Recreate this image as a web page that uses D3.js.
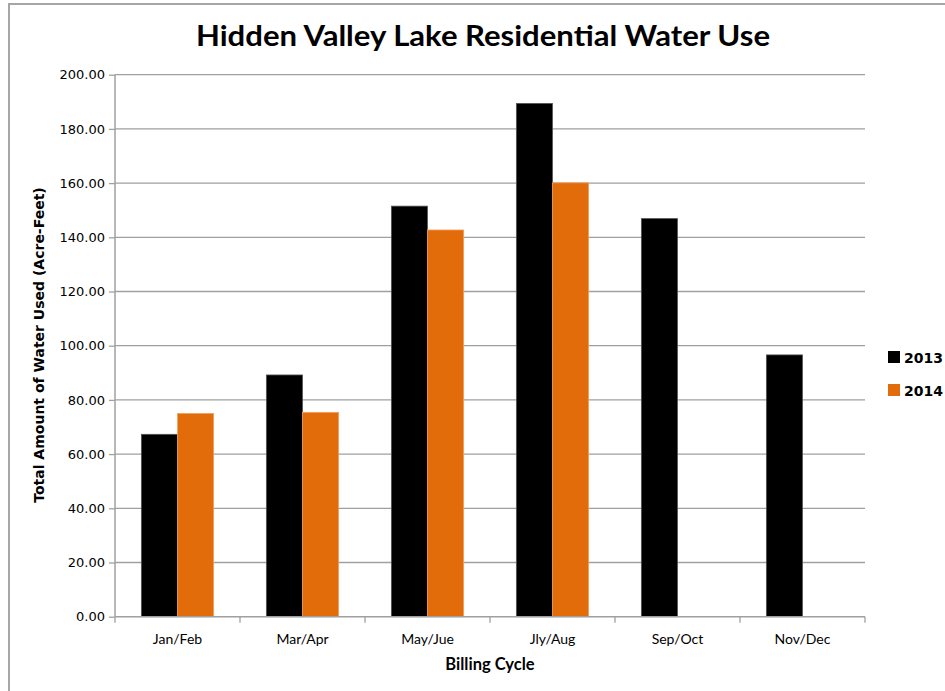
<!DOCTYPE html>
<html>
<head>
<meta charset="utf-8">
<script src="https://cdn.jsdelivr.net/npm/d3@7"></script>
<style>
  body { margin: 0; background: #fff; }
</style>
</head>
<body>
<div id="chart"></div>
<script>
var cycles = ["Jan/Feb", "Mar/Apr", "May/Jue", "Jly/Aug", "Sep/Oct", "Nov/Dec"];
var years = ["2013", "2014"];
var use2013 = [67.3, 89.2, 151.5, 189.4, 146.9, 96.6];
var use2014 = [75.0, 75.4, 142.7, 160.1, null, null];
var yTicks = [0, 20, 40, 60, 80, 100, 120, 140, 160, 180, 200];
var colors = {"2013": "#000000", "2014": "#e36c0a"};

var width = 945, height = 691;
var margin = {top: 74.7, left: 115, right: 80, bottom: 74.3};

var svg = d3.select("#chart").append("svg")
  .attr("width", width)
  .attr("height", height);

// chart frame (only left and top edges are visible)
svg.append("path")
  .attr("d", "M9,691 L9,4 L945,4")
  .attr("fill", "none")
  .attr("stroke", "#a6a6a6")
  .attr("stroke-width", 2);

var x = d3.scaleBand()
  .domain(cycles)
  .range([margin.left, width - margin.right]);

var x1 = d3.scaleBand()
  .domain(years)
  .range([0, x.bandwidth()])
  .paddingOuter(0.73);

var y = d3.scaleLinear()
  .domain([0, 200])
  .range([height - margin.bottom, margin.top]);

// gridlines
svg.append("g")
  .selectAll("line")
  .data(yTicks.slice(1))
  .enter().append("line")
  .attr("x1", margin.left)
  .attr("x2", width - margin.right)
  .attr("y1", function(d) { return y(d); })
  .attr("y2", function(d) { return y(d); })
  .attr("stroke", "#a0a0a0")
  .attr("stroke-width", 1.3);

// bars
var rows = cycles.map(function(c, i) {
  return {cycle: c, values: [
    {year: "2013", value: use2013[i]},
    {year: "2014", value: use2014[i]}
  ]};
});

var group = svg.selectAll(".grp")
  .data(rows)
  .enter().append("g")
  .attr("class", "grp")
  .attr("transform", function(d) { return "translate(" + x(d.cycle) + ",0)"; });

group.selectAll("rect")
  .data(function(d) { return d.values.filter(function(v) { return v.value != null; }); })
  .enter().append("rect")
  .attr("x", function(d) { return x1(d.year); })
  .attr("width", x1.bandwidth())
  .attr("y", function(d) { return y(d.value); })
  .attr("height", function(d) { return y(0) - y(d.value); })
  .attr("fill", function(d) { return colors[d.year]; })
  .attr("stroke", function(d) { return d.year == "2013" ? "#555" : "#f0a060"; })
  .attr("stroke-width", 0.8);

// y axis
var yAxis = svg.append("g")
  .attr("transform", "translate(" + margin.left + ",0)")
  .call(d3.axisLeft(y).tickValues(yTicks).tickSize(6).tickPadding(4)
    .tickFormat(d3.format(".2f")));
yAxis.select(".domain").attr("stroke", "#a0a0a0").attr("stroke-width", 1.5).attr("d", "M0," + y(0) + "V" + y(200));
yAxis.selectAll(".tick line").attr("stroke", "#a0a0a0").attr("stroke-width", 1.3);
yAxis.selectAll(".tick text")
  .attr("font-family", "DejaVu Sans, Verdana, sans-serif")
  .attr("font-size", 13)
  .attr("fill", "#000");

// x axis with ticks between categories
var xAxisG = svg.append("g")
  .attr("transform", "translate(0," + y(0) + ")");
xAxisG.append("line")
  .attr("x1", margin.left).attr("x2", width - margin.right)
  .attr("stroke", "#a0a0a0").attr("stroke-width", 1.5);
var bounds = cycles.map(function(c) { return x(c); }).concat([x(cycles[cycles.length - 1]) + x.bandwidth()]);
xAxisG.selectAll(".xt")
  .data(bounds)
  .enter().append("line")
  .attr("class", "xt")
  .attr("x1", function(d) { return d; })
  .attr("x2", function(d) { return d; })
  .attr("y1", 0).attr("y2", 6)
  .attr("stroke", "#a0a0a0").attr("stroke-width", 1.3);
xAxisG.selectAll(".xl")
  .data(cycles)
  .enter().append("text")
  .attr("class", "xl")
  .attr("x", function(d) { return x(d) + x.bandwidth() / 2; })
  .attr("y", 27)
  .attr("text-anchor", "middle")
  .attr("font-family", "Lato, sans-serif")
  .attr("font-size", 14)
  .attr("fill", "#000")
  .text(function(d) { return d; });

// title
svg.append("text")
  .attr("x", 483)
  .attr("y", 46)
  .attr("text-anchor", "middle")
  .attr("font-family", "Lato, sans-serif")
  .attr("font-weight", "bold")
  .attr("font-size", 28)
  .attr("textLength", 574)
  .attr("lengthAdjust", "spacingAndGlyphs")
  .text("Hidden Valley Lake Residential Water Use");

// axis titles
svg.append("text")
  .attr("x", 490)
  .attr("y", 670)
  .attr("text-anchor", "middle")
  .attr("font-family", "Lato, sans-serif")
  .attr("font-weight", "bold")
  .attr("font-size", 16.5)
  .text("Billing Cycle");

svg.append("text")
  .attr("transform", "translate(44,345) rotate(-90)")
  .attr("text-anchor", "middle")
  .attr("font-family", "DejaVu Sans, Verdana, sans-serif")
  .attr("font-weight", "bold")
  .attr("font-size", 14)
  .text("Total Amount of Water Used (Acre-Feet)");

// legend
var legend = svg.selectAll(".leg")
  .data(years)
  .enter().append("g")
  .attr("class", "leg")
  .attr("transform", function(d, i) { return "translate(888," + (353 + i * 33) + ")"; });
legend.append("rect")
  .attr("width", 12).attr("height", 12)
  .attr("y", -2)
  .attr("fill", function(d) { return colors[d]; });
legend.append("text")
  .attr("x", 16)
  .attr("y", 10)
  .attr("font-family", "DejaVu Sans, Verdana, sans-serif")
  .attr("font-weight", "bold")
  .attr("font-size", 14)
  .text(function(d) { return d; });
</script>
</body>
</html>
